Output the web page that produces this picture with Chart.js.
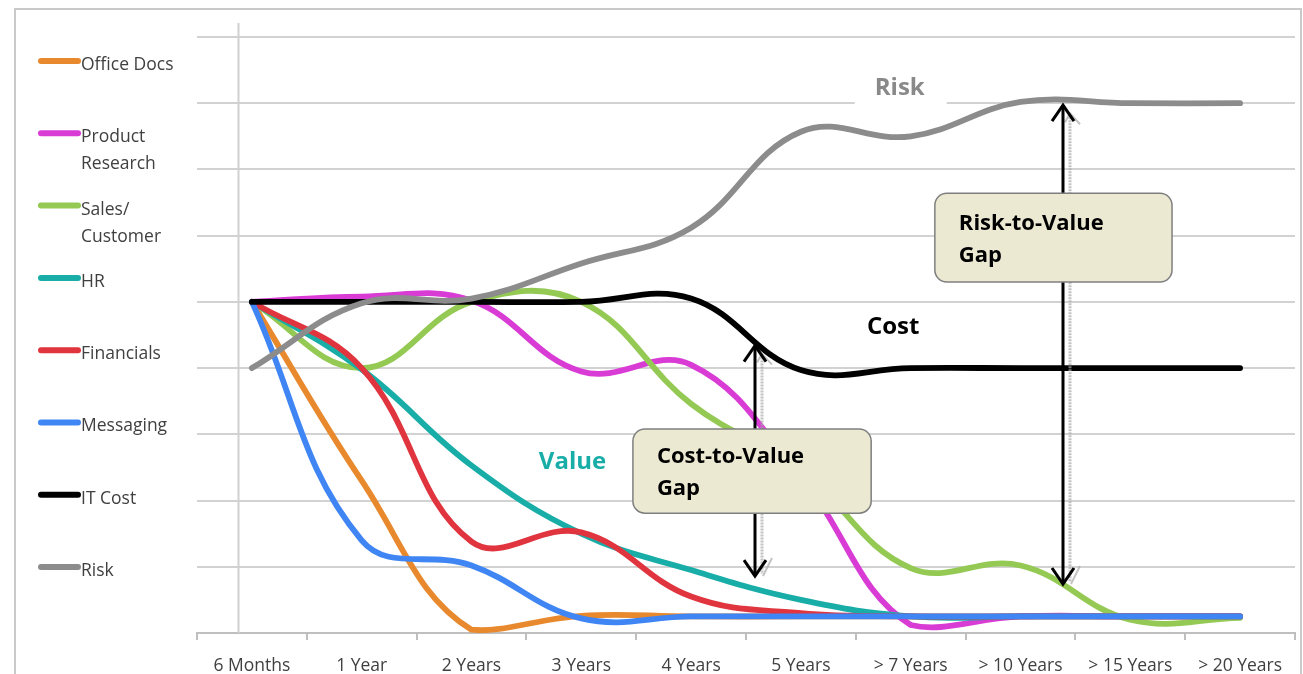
<!DOCTYPE html>
<html><head><meta charset="utf-8">
<script src="https://cdn.jsdelivr.net/npm/chart.js@4/dist/chart.umd.min.js"></script>
<style>html,body{margin:0;padding:0;background:#fff;overflow:hidden}#wrap{position:relative;width:1303px;height:674px;overflow:hidden}canvas{display:block}</style>
</head><body><div id="wrap"><canvas id="c" width="1303" height="674" style="width:1303px;height:674px"></canvas></div>
<script>
const categories = ['6 Months', '1 Year', '2 Years', '3 Years', '4 Years', '5 Years', '> 7 Years', '> 10 Years', '> 15 Years', '> 20 Years'];
const officeDocs      = [5, 2.3, 0.05, 0.26, 0.25, 0.25, 0.25, 0.25, 0.25, 0.25];
const productResearch = [5, 5.08, 5.02, 3.95, 4.05, 2.35, 0.12, 0.25, 0.25, 0.25];
const salesCustomer   = [5, 4.0, 5.0, 5.0, 3.46, 2.45, 0.98, 1.02, 0.2, 0.23];
const hr              = [5, 3.98, 2.53, 1.5, 0.95, 0.5, 0.25, 0.25, 0.25, 0.25];
const financials      = [5, 4.0, 1.38, 1.52, 0.55, 0.3, 0.25, 0.25, 0.25, 0.25];
const messaging       = [5, 1.4, 1.02, 0.22, 0.25, 0.25, 0.25, 0.25, 0.25, 0.25];
const itCost          = [5, 5, 5, 5, 5.05, 3.97, 4, 4, 4, 4];
const risk            = [4, 4.98, 5.05, 5.58, 6.12, 7.57, 7.5, 8.02, 8, 8];
const seriesNames = ['Office Docs', 'Product Research', 'Sales/ Customer', 'HR', 'Financials', 'Messaging', 'IT Cost', 'Risk'];
const legendLines = [['Office Docs'], ['Product', 'Research'], ['Sales/', 'Customer'], ['HR'], ['Financials'], ['Messaging'], ['IT Cost'], ['Risk']];
const seriesColors = ['#E8892E', '#D93BD5', '#94C954', '#19ADA8', '#E0353F', '#3F85F4', '#000000', '#8C8C8C'];
const seriesData = [officeDocs, productResearch, salesCustomer, hr, financials, messaging, itCost, risk];

const FONT = '"Open Sans", "Liberation Sans", sans-serif';

const annotations = {
  arrows: [ { x: 4.58, y1: 4.37, y2: 0.83 }, { x: 7.39, y1: 8.0, y2: 0.71 } ],
  boxes: [
    { x1: 3.47, x2: 5.64, y1: 3.08, y2: 1.81, lines: ['Cost-to-Value', 'Gap'] },
    { x1: 6.22, x2: 8.38, y1: 6.64, y2: 5.30, lines: ['Risk-to-Value', 'Gap'] }
  ],
  labels: [
    { text: 'Risk', x: 5.90, y: 8.12, color: '#898989', bg: true },
    { text: 'Cost', x: 5.84, y: 4.52, color: '#000000' },
    { text: 'Value', x: 2.92, y: 2.48, color: '#19ADA8' }
  ]
};

function drawArrow(ctx, x, yTop, yBot) {
  ctx.save();
  ctx.lineCap = 'butt';
  ctx.strokeStyle = 'rgba(170,170,170,0.7)';
  ctx.lineWidth = 3;
  ctx.setLineDash([2, 1]);
  ctx.beginPath(); ctx.moveTo(x + 7, yTop + 14); ctx.lineTo(x + 7, yBot - 4); ctx.stroke();
  ctx.setLineDash([]);
  ctx.lineWidth = 2;
  ctx.beginPath(); ctx.moveTo(x + 2, yTop + 19); ctx.lineTo(x + 7, yTop + 10); ctx.lineTo(x + 17, yTop + 21); ctx.stroke();
  ctx.beginPath(); ctx.moveTo(x + 17, yBot - 20); ctx.lineTo(x + 8, yBot - 2); ctx.stroke();
  ctx.strokeStyle = '#000';
  ctx.lineWidth = 3;
  ctx.lineJoin = 'miter';
  ctx.beginPath(); ctx.moveTo(x, yTop + 2); ctx.lineTo(x, yBot - 2); ctx.stroke();
  ctx.beginPath(); ctx.moveTo(x - 11, yTop + 18); ctx.lineTo(x, yTop + 2); ctx.lineTo(x + 11, yTop + 18); ctx.stroke();
  ctx.beginPath(); ctx.moveTo(x - 11, yBot - 18); ctx.lineTo(x, yBot - 2); ctx.lineTo(x + 11, yBot - 18); ctx.stroke();
  ctx.restore();
}

const decor = {
  id: 'decor',
  beforeDraw(chart) {
    const ctx = chart.ctx;
    ctx.save();
    ctx.strokeStyle = '#c9c9c9';
    ctx.lineWidth = 2;
    ctx.strokeRect(15, 9, 1286, 720);
    ctx.restore();
  },
  beforeDatasetsDraw(chart) {
    const ctx = chart.ctx, xs = chart.scales.x, ys = chart.scales.y;
    ctx.save();
    const vx = Math.round(xs.getPixelForValue(-0.128)) + 0.5;
    ctx.strokeStyle = '#d0d0d0';
    ctx.lineWidth = 2;
    ctx.beginPath(); ctx.moveTo(vx, ys.getPixelForValue(9.21)); ctx.lineTo(vx, ys.getPixelForValue(0)); ctx.stroke();
    annotations.labels.filter(l => l.bg).forEach(l => {
      const cx = xs.getPixelForValue(l.x), by = ys.getPixelForValue(l.y);
      ctx.fillStyle = '#fff';
      ctx.fillRect(cx - 45, by - 26, 92, 16 + 26);
    });
    ctx.restore();
  },
  afterDatasetsDraw(chart) {
    const ctx = chart.ctx, xs = chart.scales.x, ys = chart.scales.y;
    ctx.save();
    annotations.arrows.forEach(a => {
      drawArrow(ctx, Math.round(xs.getPixelForValue(a.x)), ys.getPixelForValue(a.y1), ys.getPixelForValue(a.y2));
    });
    annotations.boxes.forEach(b => {
      const x1 = xs.getPixelForValue(b.x1), x2 = xs.getPixelForValue(b.x2);
      const y1 = ys.getPixelForValue(b.y1), y2 = ys.getPixelForValue(b.y2);
      ctx.beginPath();
      ctx.roundRect(x1, y1, x2 - x1, y2 - y1, 12);
      ctx.fillStyle = '#ECE9D3';
      ctx.fill();
      ctx.strokeStyle = '#7f7f7f';
      ctx.lineWidth = 1.5;
      ctx.stroke();
      ctx.fillStyle = '#000';
      ctx.font = 'bold 22px ' + FONT;
      ctx.textBaseline = 'alphabetic';
      ctx.textAlign = 'left';
      const cy = (y1 + y2) / 2;
      ctx.fillText(b.lines[0], x1 + 24, cy - 8);
      ctx.fillText(b.lines[1], x1 + 24, cy + 24);
    });
    annotations.labels.forEach(l => {
      ctx.font = 'bold 24px ' + FONT;
      ctx.fillStyle = l.color;
      ctx.textAlign = 'center';
      ctx.textBaseline = 'alphabetic';
      ctx.fillText(l.text, xs.getPixelForValue(l.x), ys.getPixelForValue(l.y));
    });
    ctx.textAlign = 'left';
    ctx.textBaseline = 'middle';
    ctx.font = '17.5px ' + FONT;
    legendLines.forEach((lines, i) => {
      const ly = 61 + 72.3 * i;
      ctx.strokeStyle = seriesColors[i];
      ctx.lineWidth = 6;
      ctx.lineCap = 'round';
      ctx.beginPath(); ctx.moveTo(41, ly); ctx.lineTo(78, ly); ctx.stroke();
      ctx.fillStyle = '#404040';
      lines.forEach((t, k) => ctx.fillText(t, 81, ly + 4 + k * 27));
    });
    ctx.restore();
  }
};

const datasets = seriesNames.map((name, i) => ({
  label: name,
  data: seriesData[i],
  borderColor: seriesColors[i],
  backgroundColor: seriesColors[i],
  borderWidth: 5.8,
  borderCapStyle: 'round',
  borderJoinStyle: 'round',
  pointRadius: 0,
  pointHoverRadius: 0,
  tension: 0.4,
  fill: false,
  order: seriesNames.length - i
}));

new Chart(document.getElementById('c'), {
  type: 'line',
  data: { labels: categories, datasets },
  options: {
    responsive: false,
    devicePixelRatio: 1,
    animation: false,
    events: [],
    layout: { padding: { left: 197, right: 8, top: 37, bottom: 0 } },
    plugins: { legend: { display: false }, tooltip: { enabled: false } },
    scales: {
      x: {
        offset: true,
        afterFit(scale) { scale.height = 41; },
        grid: { display: true, drawOnChartArea: false, drawTicks: true, offset: true, tickLength: 7, color: '#bfbfbf', lineWidth: 2 },
        border: { display: true, color: '#bfbfbf', width: 2 },
        ticks: { color: '#404040', font: { family: FONT, size: 17.5 }, padding: 16, maxRotation: 0, autoSkip: false }
      },
      y: {
        min: 0, max: 9,
        ticks: { display: false, stepSize: 1 },
        grid: { color: '#d2d2d2', lineWidth: 2, drawTicks: false },
        border: { display: false }
      }
    }
  },
  plugins: [decor]
});
</script></body></html>
